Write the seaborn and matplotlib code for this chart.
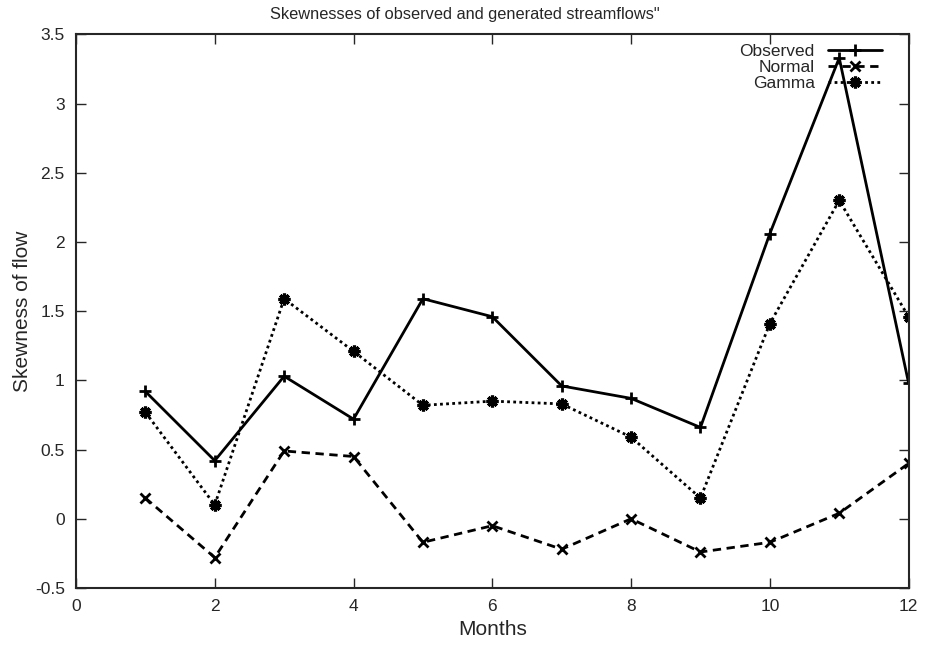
import matplotlib
matplotlib.use("Agg")
import matplotlib.pyplot as plt
from matplotlib.lines import Line2D
import seaborn as sns
import pandas as pd

months = [1, 2, 3, 4, 5, 6, 7, 8, 9, 10, 11, 12]
observed = [0.92, 0.42, 1.03, 0.72, 1.59, 1.46, 0.96, 0.87, 0.66, 2.06, 3.33, 0.98]
normal = [0.15, -0.28, 0.49, 0.45, -0.17, -0.05, -0.22, 0.0, -0.24, -0.17, 0.04, 0.40]
gamma = [0.77, 0.10, 1.59, 1.21, 0.82, 0.85, 0.83, 0.59, 0.15, 1.41, 2.30, 1.46]
series_names = ["Observed", "Normal", "Gamma"]
x_ticks = [0, 2, 4, 6, 8, 10, 12]
y_ticks = [-0.5, 0, 0.5, 1, 1.5, 2, 2.5, 3, 3.5]

sns.set_style("ticks")
plt.rcParams['font.family'] = ['Liberation Sans', 'DejaVu Sans']

fig = plt.figure(figsize=(9.3, 6.46), dpi=100)
ax = fig.add_axes([0.0817, 0.0898, 0.8953, 0.857])

df = pd.DataFrame({"Months": months * 3,
                   "value": observed + normal + gamma,
                   "series": sum([[n] * len(months) for n in series_names], [])})

styles = {
    "Observed": dict(linestyle="-", marker="+", markersize=8, markeredgewidth=2),
    "Normal": dict(linestyle=(0, (3, 2)), marker="x", markersize=7, markeredgewidth=2),
    "Gamma": dict(linestyle=(0, (1, 1.2)), marker=(8, 2, 0), markersize=8.5, markeredgewidth=2.3),
}
handles = []
for name in series_names:
    sub = df[df["series"] == name]
    sns.lineplot(data=sub, x="Months", y="value", ax=ax, color="black",
                 linewidth=2, markeredgecolor="black", markerfacecolor="black",
                 legend=False, **styles[name])
    handles.append(Line2D([], [], color="black", linewidth=2,
                          markeredgecolor="black", markerfacecolor="black",
                          **styles[name]))

ax.set_xlim(0, 12)
ax.set_ylim(-0.5, 3.5)
ax.set_xticks(x_ticks)
ax.set_yticks(y_ticks)
ax.set_yticklabels([f"{v:g}" for v in y_ticks])
ax.tick_params(direction="in", top=True, right=True, length=7, width=1,
               labelsize=12.5, pad=8)
for s in ax.spines.values():
    s.set_linewidth(1.5)
ax.set_xlabel("Months", fontsize=15, labelpad=4)
ax.set_ylabel("Skewness of flow", fontsize=15, labelpad=2)
fig.text(0.5, 1 - 15 / 646, "Skewnesses of observed and generated streamflows\"",
         fontsize=11.8, ha="center", va="center")

leg = ax.legend(handles, series_names, loc="upper right", frameon=False,
                markerfirst=False, fontsize=12.5, handlelength=3.1,
                handletextpad=0.75, labelspacing=0.06, borderaxespad=0,
                borderpad=0, bbox_to_anchor=(0.9676, 0.983))
for t in leg.get_texts():
    t.set_ha("right")
leg._legend_box.align = "right"

fig.savefig("out.png", dpi=100)
